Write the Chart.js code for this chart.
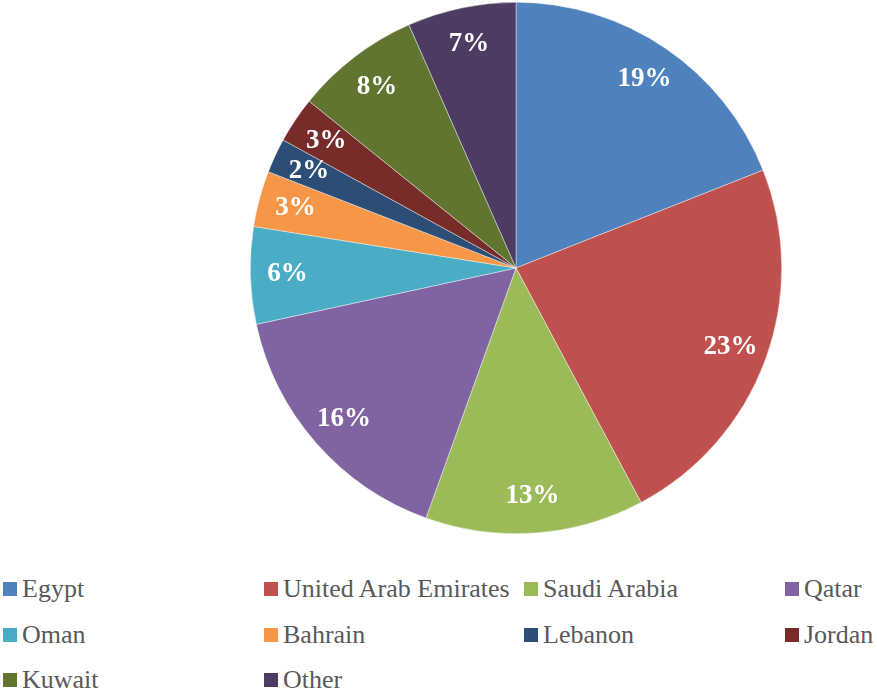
<!DOCTYPE html>
<html>
<head>
<meta charset="utf-8">
<script src="https://cdn.jsdelivr.net/npm/chart.js@4"></script>
</head>
<body style="margin:0;width:877px;height:691px;background:#fff;position:relative;overflow:hidden;font-family:serif">
<div id="pieBox" style="position:absolute;left:250px;top:2px;width:532px;height:532px"><canvas id="chart1"></canvas></div>
<div id="legend" style="position:absolute;left:3px;top:574px;font-family:serif;font-size:26px;color:#595959"></div>
<script>
// data kategori dan nilai (persen)
const countries = ['Egypt', 'United Arab Emirates', 'Saudi Arabia', 'Qatar', 'Oman', 'Bahrain', 'Lebanon', 'Jordan', 'Kuwait', 'Other'];
const shares = [19.0, 23.2, 13.3, 16.1, 5.9, 3.4, 2.1, 2.8, 7.6, 6.6];
const colors = ['#4F81BD', '#C0504D', '#9BBB59', '#8064A2', '#4BACC6', '#F79646', '#2C4D75', '#772C2A', '#5F7530', '#4D3B62'];

Chart.defaults.font.family = 'serif';

// label persen di dalam irisan
const sliceLabels = {
  id: 'sliceLabels',
  afterDatasetsDraw(chart) {
    const ctx = chart.ctx;
    const meta = chart.getDatasetMeta(0);
    const total = shares.reduce((a, b) => a + b, 0);
    ctx.save();
    ctx.fillStyle = '#fff';
    ctx.font = 'bold 27px serif';
    ctx.textAlign = 'center';
    ctx.textBaseline = 'middle';
    meta.data.forEach((arc, i) => {
      const p = arc.getProps(['x', 'y', 'startAngle', 'endAngle', 'outerRadius'], true);
      const mid = (p.startAngle + p.endAngle) / 2;
      const r = p.outerRadius * 0.86;
      const pct = Math.round(shares[i] / total * 100) + '%';
      ctx.fillText(pct, p.x + Math.cos(mid) * r, p.y + Math.sin(mid) * r);
    });
    ctx.restore();
  }
};

const ctx = document.getElementById('chart1').getContext('2d');
new Chart(ctx, {
  type: 'pie',
  data: {
    labels: countries,
    datasets: [{
      data: shares,
      backgroundColor: colors,
      borderColor: 'rgba(255,255,255,0.7)',
      borderWidth: 0.6
    }]
  },
  options: {
    responsive: true,
    maintainAspectRatio: false,
    animation: false,
    layout: { padding: 0 },
    plugins: {
      legend: { display: false },
      tooltip: { enabled: false }
    }
  },
  plugins: [sliceLabels]
});

// legenda manual, 4 kolom
const legend = document.getElementById('legend');
countries.forEach((name, i) => {
  const el = document.createElement('div');
  el.style.cssText = 'position:absolute;white-space:nowrap;display:flex;align-items:center;height:30px;' +
    'left:' + [0, 261, 521, 782][i % 4] + 'px;top:' + Math.floor(i / 4) * 45.5 + 'px';
  const box = document.createElement('span');
  box.style.cssText = 'width:14px;height:14px;margin-right:5px;background:' + colors[i];
  el.appendChild(box);
  el.appendChild(document.createTextNode(name));
  legend.appendChild(el);
});
</script>
</body>
</html>
